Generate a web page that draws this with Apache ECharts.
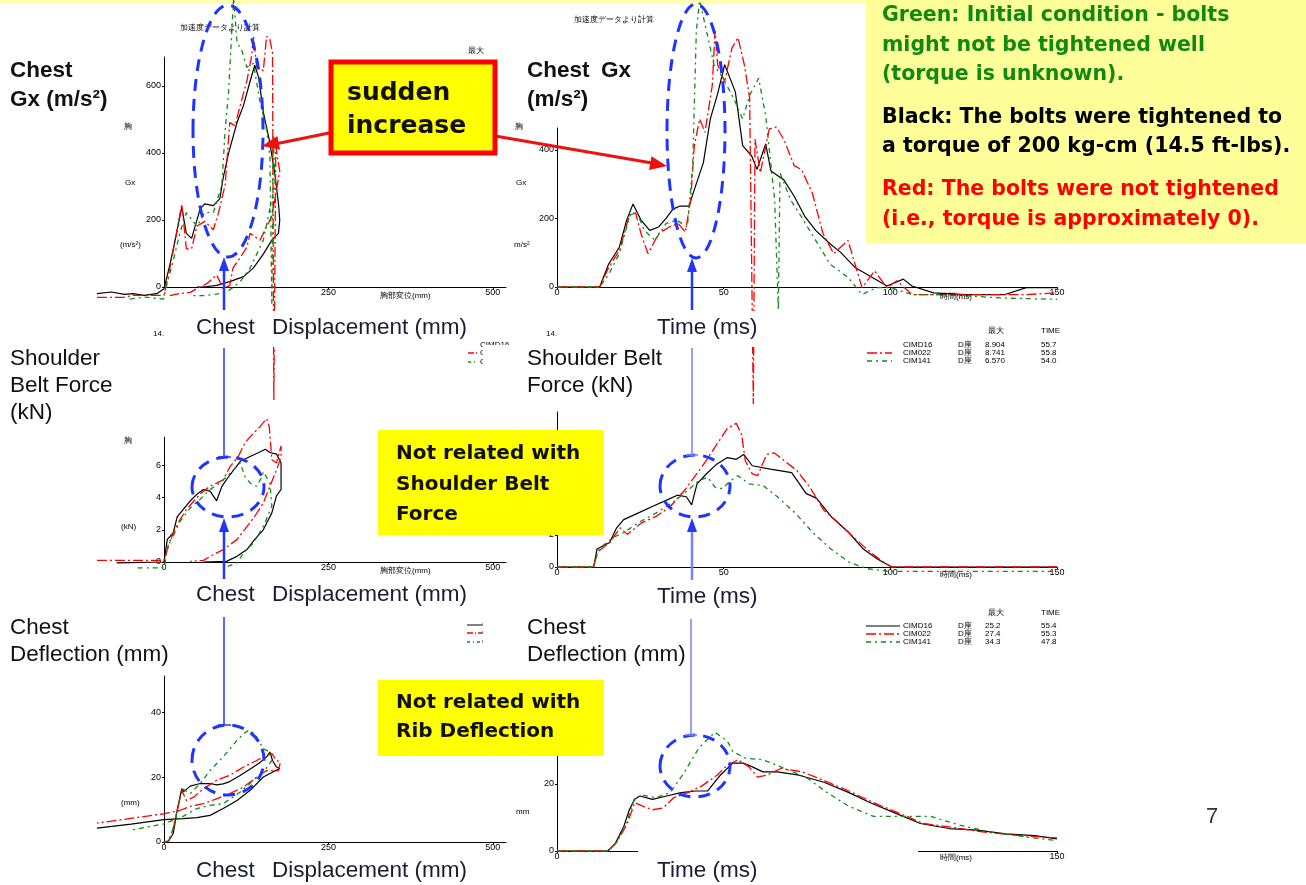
<!DOCTYPE html>
<html>
<head>
<meta charset="utf-8">
<script src="https://cdn.jsdelivr.net/npm/echarts@6/dist/echarts.min.js"></script>
<style>
html,body{margin:0;padding:0;background:#fff;}
#chart{width:1306px;height:885px;}
</style>
</head>
<body>
<div id="chart"></div>
<script>
// chest Gx (m/s2) vs chest displacement (mm)
var gxDispBlack = [[-102,-20],[-80,-15],[-60,-22],[-47,-20],[-30,-25],[-11,-20],[0,-5],[9,67],[19,160],[27,238],[34,160],[42,145],[55,233],[62,248],[75,243],[85,264],[90,326],[98,398],[111,491],[121,543],[131,615],[138,662],[144,625],[151,522],[161,430],[169,330],[174,250],[176,200],[174,160],[164,140],[151,98],[136,57],[121,31],[100,16],[80,5],[60,0],[50,0]];
var gxDispRed = [[-102,-31],[-62,-31],[-47,-25],[0,-25],[9,57],[19,160],[27,248],[34,114],[42,114],[50,181],[62,196],[75,171],[83,222],[93,305],[100,491],[108,481],[116,543],[126,615],[133,687],[136,749],[141,656],[151,646],[156,749],[161,739],[165,698],[167,-337],[170,419],[176,346],[164,212],[146,140],[131,160],[126,119],[116,88],[105,57],[100,5],[90,-5],[80,36],[65,10],[50,-5],[40,-16],[19,-21],[9,-26]];
var gxDispGreen = [[-52,-36],[-30,-30],[-1,-36],[4,5],[14,78],[24,160],[34,222],[50,181],[62,222],[75,222],[88,305],[93,470],[98,574],[103,760],[106,863],[111,729],[118,708],[126,656],[136,667],[146,553],[156,470],[161,388],[164,-54],[166,450],[169,305],[161,233],[151,140],[141,98],[131,57],[116,16],[95,-16],[80,-21],[60,-26],[40,-26]];

// chest Gx (m/s2) vs time (ms)
var gxTimeBlack = [[0,0],[12.8,0],[15.5,67],[18.7,116],[20.9,195],[22.8,242],[25.2,195],[27.8,165],[30.5,175],[32.7,200],[34.8,227],[36.9,236],[39.6,236],[41.2,284],[43.9,362],[46,490],[48.2,564],[50.3,648],[51.9,609],[53.5,569],[55.7,412],[58.4,382],[60,343],[62.6,417],[64.2,338],[68,313],[71.2,264],[74.4,205],[77.6,165],[81.9,126],[85.1,101],[89.4,57],[93.7,33],[99,3],[103.9,23],[106.5,3],[113,-17],[122.6,-22],[134.4,-22],[140.8,-2],[150,-2]];
var gxTimeRed = [[0,0],[12.8,0],[15.5,57],[18.7,106],[21.9,215],[23.6,215],[25.2,156],[27.3,97],[30.5,156],[33.7,175],[36.4,185],[38.5,160],[40.1,254],[41.2,412],[42.8,490],[44.4,451],[46.6,589],[47.4,747],[48.2,648],[50.3,599],[52.5,697],[54.3,727],[56.2,648],[57.8,550],[58.9,-341],[59.4,431],[61,333],[63.7,461],[65.8,466],[68,431],[71.2,353],[73.3,343],[76.6,274],[79.8,156],[83,97],[87.3,136],[89.4,67],[91.5,-2],[95.3,47],[99,-2],[102,18],[106.5,-22],[117,-22],[128,-22],[140.8,-22],[150,-17]];
var gxTimeGreen = [[0,0],[12.8,0],[15.5,37],[18.7,97],[21.9,210],[24.1,215],[26.2,165],[29.4,136],[32.7,185],[35.9,195],[39.1,175],[40.7,353],[41.8,747],[42.8,835],[44.4,766],[47.1,648],[49.8,609],[53,550],[55.7,490],[57.8,559],[60.5,609],[62.6,500],[65.3,254],[66.4,-67],[66.9,333],[70.1,254],[73.3,205],[77.6,136],[81.9,67],[87.3,28],[91.5,-22],[95.8,-2],[100,-2],[106.5,-22],[117,-22],[133,-32],[150,-36]];

// shoulder belt force (kN) vs chest displacement (mm)
var beltDispBlack = [[-72,-0.05],[0,0],[5,1.4],[14,1.8],[20,2.8],[29,3.25],[40,3.8],[50,4.2],[60,4.5],[70,4.4],[80,3.8],[88,4.7],[100,5.4],[116,6.25],[131,6.55],[144,6.8],[154,7.0],[156,7.1],[161,6.8],[171,6.7],[178,6.15],[178,4.5],[171,4.1],[164,3.05],[151,2.0],[138,1.4],[126,0.77],[111,0.35],[95,0.04],[60,0]];
var beltDispRed = [[-102,0.1],[0,0.1],[5,0.77],[14,1.8],[24,2.6],[34,3.25],[45,3.77],[57,4.3],[70,4.7],[80,4.9],[90,5.1],[100,5.9],[113,6.55],[123,7.4],[136,8.0],[146,8.4],[156,8.9],[160,8.4],[164,6.35],[171,6.15],[178,7.2],[178,6.55],[171,5.7],[161,4.7],[151,3.66],[138,2.84],[126,2.2],[111,1.39],[90,0.77],[75,0.46],[60,0.1],[40,0.04]];
var beltDispGreen = [[-40,-0.37],[0,-0.37],[7,1.18],[14,1.6],[24,2.5],[40,3.35],[55,3.9],[70,4.5],[85,4.9],[100,5.5],[116,6.15],[123,5.3],[131,4.9],[141,4.7],[149,5.3],[151,5.6],[161,4.9],[164,3.46],[151,2.2],[136,1.18],[121,0.56],[111,-0.06],[90,-0.37]];

// shoulder belt force (kN) vs time (ms)
var beltTimeBlack = [[0,0],[11,0],[12,1.12],[15.8,1.53],[17.9,2.45],[20,2.96],[24.3,3.37],[28.6,3.78],[32.9,4.18],[36.1,4.49],[38.8,4.39],[40.4,3.88],[42,5.2],[44.7,5.8],[47.9,6.43],[51.1,6.84],[53.8,6.73],[56,7.04],[58.6,6.33],[64,6.12],[70.4,5.9],[74.7,4.6],[77.9,4.29],[82.2,3.16],[87.6,2.14],[91.9,1.12],[96.1,0.5],[100.4,0],[150,0]];
var beltTimeRed = [[0,0],[11,0],[12,0.92],[15.8,1.53],[19,2.45],[21.1,2.04],[25.4,2.76],[29.7,3.16],[34,3.78],[38.3,4.8],[41.5,5.71],[44.7,6.63],[47.9,7.65],[51.1,8.67],[53.8,8.98],[55.4,8.27],[56.5,6.63],[58.6,5.82],[60.2,5.71],[62.9,7.04],[65.1,7.14],[68.3,6.63],[72,6.02],[75.8,5.0],[80,3.57],[84.4,2.76],[88.6,1.94],[92.9,1.12],[97.2,0.41],[100.4,0],[150,0]];
var beltTimeGreen = [[0,0],[11,0],[12.5,1.12],[16.8,1.84],[20,2.14],[24.3,2.76],[29.7,3.37],[35,4.08],[39.3,4.8],[42.6,5.41],[45.2,5.61],[47.4,5.0],[49.5,4.9],[52.2,5.41],[54.3,5.71],[57.6,5.2],[61.8,5.1],[66.1,4.39],[71.5,3.37],[76.8,2.14],[82.2,1.12],[87.6,0.31],[92.9,-0.1],[99.4,-0.27],[150,-0.27]];

// chest deflection (mm) vs chest displacement (mm)
var deflDispBlack = [[0,0],[7,0.3],[14,2.6],[20,9.7],[27,16.4],[30,15.5],[34,16.2],[40,17.2],[55,18.0],[70,18.0],[80,17.6],[90,17.9],[100,18.6],[115,20.4],[130,22.3],[145,24.3],[156,26.2],[161,27.7],[165,25.1],[171,23.1],[176,22.6],[165,21.5],[151,20],[131,15.9],[111,12.8],[90,10.3],[70,8.2],[50,7.5],[29,7.2],[0,6.9],[-50,5.5],[-102,4.3]];
var deflDispRed = [[0,0],[7,0.3],[14,4],[19,8.7],[27,15.9],[34,12.8],[45,13.8],[60,16.4],[80,19],[100,20.5],[121,23.1],[141,25.1],[151,26.2],[164,27.2],[171,25.1],[177,24.6],[174,22],[156,22],[141,20],[121,16.9],[100,14.9],[80,13.3],[60,11.8],[40,11],[24,9.7],[0,8.7],[-102,5.8]];
var deflDispGreen = [[0,0],[9,0.3],[19,8.7],[28,16.4],[40,14.9],[55,18],[70,22],[90,26.2],[111,31.3],[121,33.3],[129,34.4],[138,33.3],[151,28.7],[161,27.7],[164,25.1],[151,21.5],[136,19],[116,15.4],[90,11.8],[70,11.3],[50,10.3],[29,7.9],[0,5.6],[-52,3.6]];

// chest deflection (mm) vs time (ms)
var deflTimeBlack = [[0,0],[15.2,0],[17.4,2.05],[20,7.2],[21.7,12.3],[23.3,15.4],[24.9,16.4],[28.6,15.4],[32.9,16.4],[37.2,17.4],[41.5,17.9],[45.2,17.9],[49,22.6],[52.7,26.2],[55.9,26.2],[58.6,25.1],[61.8,23.6],[66.1,23.6],[72.6,22.6],[80.1,20.5],[87.6,17.4],[94,14.4],[101.5,11.3],[109,8.2],[117.6,6.7],[126,6.2],[134.7,5.1],[143.3,4.6],[150,3.6]];
var deflTimeRed = [[0,0],[15.2,0],[17.9,2.6],[21.1,8.2],[23.3,14.4],[25.9,13.3],[28.6,12.3],[31.8,12.8],[35,15.9],[39.3,17.4],[43.6,19.5],[48,22.6],[51.1,25.6],[54.3,27.2],[57.6,25.1],[60.2,22],[62.9,22.6],[67.2,24.6],[73.6,23.6],[80.1,21],[87.6,17.9],[95,14.4],[102.6,11.3],[110,8.2],[117.6,7.2],[128.3,5.6],[139,4.6],[150,3.9]];
var deflTimeGreen = [[0,0],[15.2,0],[17.9,2.6],[21.1,9.2],[23.3,15.9],[25.9,16.6],[29.7,15.9],[34,17.4],[38.3,23.6],[42.6,30.8],[47.4,35.4],[51.1,32.8],[52.7,29.7],[56.5,27.7],[61.8,27.2],[68.3,24.6],[74.7,22],[81.1,17.4],[87.6,13.3],[95,10.3],[102.6,10.3],[112.2,10.3],[120.8,7.7],[130.4,5.6],[141.2,4.1],[150,3.1]];

// tick labels
var dispTicks = [0, 250, 500];
var timeTicks = [0, 50, 100, 150];
var gxTicks = [0, 200, 400, 600];
var gxTimeTicks = [0, 200, 400];
var beltTicks = [0, 2, 4, 6];
var beltTimeTicks = [0, 2, 4, 6, 8];
var deflTicks = [0, 20, 40];

var myChart = echarts.init(document.getElementById('chart'));

var FONT = '"Liberation Sans", Arial, sans-serif';
var BOXFONT = '"DejaVu Sans", Verdana, sans-serif';
var TICKFONT = '"Liberation Sans Narrow", "Liberation Sans", sans-serif';
var BLACK = '#000000', RED = '#ff0000', GREEN = '#138a13';

// visible axes start at 0; the traces sit on a hidden twin grid that reaches into negative displacement
var panels = [
    {left: 164, top: 57, width: 342, height: 230, xMin: -105, xMax: 520, yMax: 686.6, xLab: [250, 500], yLab: gxTicks},
    {left: 557, top: 128, width: 500, height: 159, xMin: 0, xMax: 150, yMax: 463.6, xLab: timeTicks, yLab: gxTimeTicks},
    {left: 164, top: 437, width: 342, height: 125, xMin: -105, xMax: 520, yMax: 7.76, xLab: dispTicks, yLab: beltTicks},
    {left: 557, top: 412, width: 500, height: 155, xMin: 0, xMax: 150, yMax: 9.69, xLab: timeTicks, yLab: beltTimeTicks},
    {left: 164, top: 676, width: 342, height: 166, xMin: -105, xMax: 520, yMax: 51.1, xLab: dispTicks, yLab: deflTicks},
    {left: 557, top: 683, width: 500, height: 168, xMin: 0, xMax: 150, yMax: 50.1, xLab: timeTicks, yLab: deflTicks}
];
var traces = [
    [gxDispBlack, gxDispRed, gxDispGreen],
    [gxTimeBlack, gxTimeRed, gxTimeGreen],
    [beltDispBlack, beltDispRed, beltDispGreen],
    [beltTimeBlack, beltTimeRed, beltTimeGreen],
    [deflDispBlack, deflDispRed, deflDispGreen],
    [deflTimeBlack, deflTimeRed, deflTimeGreen]
];
var lineStyles = [
    {color: BLACK, width: 1.2, type: 'solid'},
    {color: RED, width: 1.3, type: [10, 3, 2, 3]},
    {color: GREEN, width: 1.3, type: [5, 4, 2, 4]}
];

var grids = [], xAxes = [], yAxes = [], series = [];
panels.forEach(function (p, i) {
    grids.push({left: p.left, top: p.top, width: p.width, height: p.height});
    xAxes.push({
        type: 'value', gridIndex: i, min: 0, max: p.xMax,
        axisLine: {onZero: false, lineStyle: {color: '#000', width: 1}},
        axisTick: {show: true, length: 2, customValues: p.xLab, lineStyle: {color: '#000'}},
        axisLabel: {customValues: p.xLab, fontSize: 9, color: '#000', margin: 1, fontFamily: TICKFONT},
        splitLine: {show: false}
    });
    yAxes.push({
        type: 'value', gridIndex: i, min: 0, max: p.yMax,
        axisLine: {show: true, onZero: false, lineStyle: {color: '#000', width: 1}},
        axisTick: {show: true, length: 2, customValues: p.yLab, lineStyle: {color: '#000'}},
        axisLabel: {customValues: p.yLab, fontSize: 9, color: '#000', margin: 3, fontFamily: TICKFONT},
        splitLine: {show: false}
    });
});
panels.forEach(function (p, i) {
    var s = p.width / p.xMax;
    var gi = grids.length;
    grids.push({left: p.left + p.xMin * s, top: p.top, width: (p.xMax - p.xMin) * s, height: p.height});
    xAxes.push({type: 'value', gridIndex: gi, min: p.xMin, max: p.xMax, show: false});
    yAxes.push({type: 'value', gridIndex: gi, min: 0, max: p.yMax, show: false});
    traces[i].forEach(function (d, k) {
        series.push({
            type: 'line', xAxisIndex: gi, yAxisIndex: gi, data: d,
            showSymbol: false, clip: false, silent: true,
            lineStyle: lineStyles[k], z: 2
        });
    });
});

// ---- annotation helpers
function txt(s, x, y, size, opt) {
    opt = opt || {};
    return {type: 'text', z: opt.z || 80, style: {
        text: s, x: x, y: y,
        font: (opt.bold ? 'bold ' : '') + size + 'px ' + (opt.family || FONT),
        fill: opt.color || '#111',
        textAlign: opt.align || 'left', textVerticalAlign: 'middle'
    }};
}
function rect(x, y, w, h, fill, z, stroke, lw) {
    return {type: 'rect', z: z, shape: {x: x, y: y, width: w, height: h},
        style: {fill: fill, stroke: stroke || null, lineWidth: lw || 0}};
}
function seg(x1, y1, x2, y2, color, w, z, dash) {
    return {type: 'line', z: z || 60, shape: {x1: x1, y1: y1, x2: x2, y2: y2},
        style: {stroke: color, lineWidth: w, lineDash: dash || null}};
}
function head(x1, y1, x2, y2, len, half, color) {
    var a = Math.atan2(y2 - y1, x2 - x1);
    var bx = x2 - len * Math.cos(a), by = y2 - len * Math.sin(a);
    var px = -Math.sin(a) * half, py = Math.cos(a) * half;
    return {type: 'polygon', z: 61, shape: {points: [[x2, y2], [bx + px, by + py], [bx - px, by - py]]},
        style: {fill: color}};
}
function ell(cx, cy, rx, ry) {
    return {type: 'ellipse', z: 60, shape: {cx: cx, cy: cy, rx: rx, ry: ry},
        style: {fill: null, stroke: '#1f35ff', lineWidth: 3, lineDash: [12, 8]}};
}
function small(s, x, y) { return txt(s, x, y, 8, {color: '#000', family: TICKFONT, z: 40}); }

var BLUE = '#2236ff', LBLUE = '#7d7dff';
var g = [];

// pale strip and note box
g.push(rect(0, 0, 1306, 4, '#ffffb0', 1));
g.push(rect(866, 0, 440, 243, '#ffff99', 70));

// small labels of the original plots
g.push(small('加速度データより計算', 180, 28), small('最大', 468, 51), small('加速度データより計算', 574, 20));
g.push(small('胸', 124, 127), small('Gx', 125, 183), small('(m/s²)', 120, 245));
g.push(small('胸', 515, 127), small('Gx', 516, 183), small('m/s²', 514, 245));
g.push(small('胸部変位(mm)', 380, 296), small('時間(ms)', 940, 297));
g.push(small('14.', 153, 334), small('14.', 546, 334));
g.push(small('胸', 124, 441), small('(kN)', 121, 527), small('胸部変位(mm)', 380, 571), small('時間(ms)', 940, 575));
g.push(small('(mm)', 121, 803), small('mm', 516, 812), small('時間(ms)', 940, 858));

// legends of the original plots
g.push(small('最大', 988, 331), small('TIME', 1041, 331));
[['CIMD16', '8.904', '55.7'], ['CIM022', '8.741', '55.8'], ['CIM141', '6.570', '54.0']].forEach(function (r, j) {
    var y = 345 + j * 8;
    g.push(small(r[0], 903, y), small('D座', 958, y), small(r[1], 985, y), small(r[2], 1041, y));
});
g.push(seg(867, 353, 892, 353, RED, 1.3, 40, [10, 3, 2, 3]), seg(867, 361, 892, 361, GREEN, 1.3, 40, [5, 4, 2, 4]));
g.push(small('最大', 988, 613), small('TIME', 1041, 613));
[['CIMD16', '25.2', '55.4'], ['CIM022', '27.4', '55.3'], ['CIM141', '34.3', '47.8']].forEach(function (r, j) {
    var y = 626 + j * 8;
    g.push(small(r[0], 903, y), small('D座', 958, y), small(r[1], 985, y), small(r[2], 1041, y));
});
g.push(seg(866, 626, 900, 626, BLACK, 1, 40), seg(866, 634, 900, 634, RED, 1.3, 40, [10, 3, 2, 3]), seg(866, 642, 900, 642, GREEN, 1.3, 40, [5, 4, 2, 4]));
[['CIMD16', 345], ['CIM022', 353], ['CIM141', 362]].forEach(function (r) { g.push(small(r[0], 480, r[1])); });
g.push(seg(468, 353, 478, 353, RED, 1.3, 40, [6, 2, 1, 2]), seg(468, 362, 478, 362, GREEN, 1.3, 40, [3, 3, 1, 3]));
[['CIMD16', 625], ['CIM022', 633], ['CIM141', 642]].forEach(function (r) { g.push(small(r[0], 482, r[1])); });
g.push(seg(467, 625, 482, 625, BLACK, 1, 40), seg(467, 633, 482, 633, RED, 1.3, 40, [6, 2, 1, 2]), seg(467, 642, 482, 642, GREEN, 1.3, 40, [3, 3, 1, 3]));

// white label backgrounds
g.push(rect(188, 311, 288, 36, '#fff', 50), rect(645, 311, 120, 36, '#fff', 50));
g.push(rect(483, 345, 185, 56, '#fff', 50));
g.push(rect(188, 579, 288, 34, '#fff', 50), rect(645, 580, 120, 34, '#fff', 50));
g.push(rect(483, 612, 205, 57, '#fff', 50));
g.push(rect(188, 852, 288, 33, '#fff', 50), rect(638, 846, 280, 39, '#fff', 50));

// panel titles
g.push(txt('Chest', 10, 71, 22.5, {bold: true}), txt('Gx (m/s²)', 10, 100, 22.5, {bold: true}));
g.push(txt('Chest', 527, 71, 22.5, {bold: true}), txt('Gx', 601, 71, 22.5, {bold: true}), txt('(m/s²)', 527, 100, 22.5, {bold: true}));
g.push(txt('Shoulder', 10, 359, 22.5), txt('Belt Force', 10, 386, 22.5), txt('(kN)', 10, 413, 22.5));
g.push(txt('Shoulder Belt', 527, 359, 22.5), txt('Force (kN)', 527, 386, 22.5));
g.push(txt('Chest', 10, 628, 22.5), txt('Deflection (mm)', 10, 655, 22.5));
g.push(txt('Chest', 527, 628, 22.5), txt('Deflection (mm)', 527, 655, 22.5));
[328, 595, 871].forEach(function (y) {
    g.push(txt('Chest', 196, y, 22.5, {color: '#1b1b33'}), txt('Displacement (mm)', 272, y, 22.5, {color: '#1b1b33'}));
    g.push(txt('Time (ms)', 657, y + (y === 595 ? 2 : 0), 22.5, {color: '#1b1b33'}));
});
g.push(txt('7', 1206, 817, 22, {color: '#333'}));

// blue dashed ellipses and markers
g.push(ell(228, 131, 35, 126), ell(696, 131, 29, 127), ell(228, 487, 36, 30), ell(695, 486, 35, 31), ell(228, 760, 36, 35), ell(695, 766, 35, 31));
g.push(seg(224, 310, 224, 268, BLUE, 2.5), head(224, 310, 224, 257, 14, 5, BLUE));
g.push(seg(692, 310, 692, 268, BLUE, 2.5), head(692, 310, 692, 258, 14, 5, BLUE));
g.push(seg(224, 579, 224, 528, BLUE, 2.5), head(224, 579, 224, 518, 14, 5, BLUE));
g.push(seg(692, 580, 692, 528, LBLUE, 2.5), head(692, 580, 692, 518, 14, 5, BLUE));
g.push(seg(224, 348, 224, 457, BLUE, 1.5), seg(218, 457, 231, 457, BLUE, 1.5));
g.push(seg(692, 348, 692, 455, LBLUE, 1.5), seg(686, 455, 698, 455, LBLUE, 1.5));
g.push(seg(224, 617, 224, 725, BLUE, 1.5), seg(218, 725, 231, 725, BLUE, 1.5));
g.push(seg(691, 619, 691, 735, LBLUE, 1.5), seg(685, 735, 697, 735, LBLUE, 1.5));

// red arrows
g.push(seg(329, 133, 275, 144, '#ee1111', 3, 62), head(329, 133, 262, 146, 17, 7, '#ee1111'));
g.push(seg(495, 136, 652, 163, '#ee1111', 3, 62), head(495, 136, 667, 166, 17, 7, '#ee1111'));

// callout boxes
g.push(rect(331, 62, 164, 91, '#ffff00', 70, '#ff0000', 5));
g.push(txt('sudden', 347, 93, 25, {bold: true, color: '#111', family: BOXFONT}), txt('increase', 347, 126, 25, {bold: true, color: '#111', family: BOXFONT}));
g.push(rect(378, 430, 226, 105, '#ffff00', 70));
g.push(txt('Not related with', 396, 454, 20, {bold: true, family: BOXFONT}), txt('Shoulder Belt', 396, 485, 20, {bold: true, family: BOXFONT}), txt('Force', 396, 515, 20, {bold: true, family: BOXFONT}));
g.push(rect(378, 680, 226, 76, '#ffff00', 70));
g.push(txt('Not related with', 396, 703, 20, {bold: true, family: BOXFONT}), txt('Rib Deflection', 396, 732, 20, {bold: true, family: BOXFONT}));

// note text
var GTXT = '#108a10';
var nb = {bold: true, color: GTXT, family: BOXFONT};
g.push(txt('Green: Initial condition - bolts', 882, 16, 20.5, nb));
g.push(txt('might not be tightened well', 882, 46, 20.5, nb));
g.push(txt('(torque is unknown).', 882, 75, 20.5, nb));
nb = {bold: true, color: '#000', family: BOXFONT};
g.push(txt('Black: The bolts were tightened to', 882, 118, 20.5, nb));
g.push(txt('a torque of 200 kg-cm (14.5 ft-lbs).', 882, 147, 20.5, nb));
nb = {bold: true, color: '#ff0000', family: BOXFONT};
g.push(txt('Red: The bolts were not tightened', 882, 190, 20.5, nb));
g.push(txt('(i.e., torque is approximately 0).', 882, 220, 20.5, nb));

var option = {
    animation: false,
    backgroundColor: '#ffffff',
    grid: grids,
    xAxis: xAxes,
    yAxis: yAxes,
    series: series,
    graphic: {elements: g}
};
myChart.setOption(option);
</script>
</body>
</html>
